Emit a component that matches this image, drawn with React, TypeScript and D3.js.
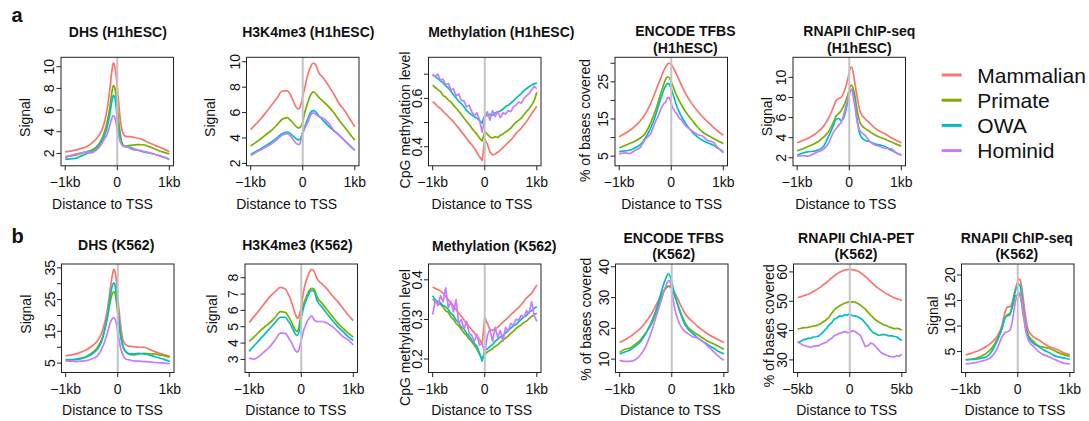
import React from 'react';
import * as d3 from 'd3';

// ---------- shared categories ----------
const SERIES = ['Mammalian', 'Primate', 'OWA', 'Hominid'];
const COLORS = ['#F8766D', '#7CAE00', '#00BFC4', '#C77CFF'];

// ---------- x grids (kb) ----------
const X_PEAK = [-1, -0.9, -0.8, -0.7, -0.6, -0.5, -0.4, -0.3, -0.25, -0.2, -0.15, -0.1, -0.075, -0.05, -0.025, 0, 0.025, 0.05, 0.075, 0.1, 0.15, 0.2, 0.25, 0.3, 0.4, 0.5, 0.6, 0.7, 0.8, 0.9, 1];
const X_METH = [-1, -0.95, -0.9, -0.85, -0.8, -0.75, -0.7, -0.65, -0.6, -0.55, -0.5, -0.45, -0.4, -0.35, -0.3, -0.25, -0.2, -0.15, -0.1, -0.05, 0, 0.05, 0.1, 0.15, 0.2, 0.25, 0.3, 0.35, 0.4, 0.45, 0.5, 0.55, 0.6, 0.65, 0.7, 0.75, 0.8, 0.85, 0.9, 0.95, 1];
const X_CHIA = [-5, -4.75, -4.5, -4.25, -4, -3.75, -3.5, -3.25, -3, -2.75, -2.5, -2.25, -2, -1.75, -1.5, -1.25, -1, -0.75, -0.5, -0.25, 0, 0.25, 0.5, 0.75, 1, 1.25, 1.5, 1.75, 2, 2.25, 2.5, 2.75, 3, 3.25, 3.5, 3.75, 4, 4.25, 4.5, 4.75, 5];

// ---------- tick labels ----------
const X_TICKS_1KB = [-1, 0, 1];
const X_LABELS_1KB = ['\u22121kb', '0', '1kb'];
const X_TICKS_5KB = [-5, 0, 5];
const X_LABELS_5KB = ['\u22125kb', '0', '5kb'];

// ---------- a1: DHS (H1hESC) ----------
const a1_mammalian = [2.15, 2.22, 2.3, 2.45, 2.6, 2.9, 3.35, 4.1, 4.8, 5.9, 7.6, 9.7, 10.35, 10.1, 9.3, 8.1, 6.8, 5.5, 4.6, 4.0, 3.6, 3.55, 3.55, 3.5, 3.4, 3.25, 3.0, 2.8, 2.6, 2.4, 2.15];
const a1_primate = [1.7, 1.78, 1.85, 2.0, 2.15, 2.3, 2.6, 3.3, 3.9, 4.8, 6.0, 7.7, 8.25, 8.1, 7.4, 6.3, 5.1, 4.1, 3.3, 2.9, 2.65, 2.7, 2.75, 2.78, 2.82, 2.8, 2.65, 2.45, 2.25, 2.1, 1.95];
const a1_owa = [1.45, 1.5, 1.55, 1.75, 1.95, 2.15, 2.45, 3.1, 3.6, 4.3, 5.4, 6.9, 7.35, 7.2, 6.5, 5.2, 4.2, 3.5, 3.0, 2.75, 2.62, 2.6, 2.55, 2.45, 2.3, 2.15, 2.05, 1.95, 1.8, 1.65, 1.45];
const a1_hominid = [1.6, 1.8, 1.95, 2.05, 2.15, 2.05, 2.3, 2.9, 3.3, 3.7, 4.45, 5.3, 5.5, 5.35, 4.9, 4.15, 3.6, 3.2, 2.9, 2.75, 2.65, 2.6, 2.45, 2.35, 2.3, 2.2, 2.1, 1.95, 1.8, 1.65, 1.45];
const a1_yTicks = [2, 4, 6, 8, 10];
const a1_yLabels = [2, 4, 6, 8, 10];

// ---------- a2: H3K4me3 (H1hESC) ----------
const a2_mammalian = [4.66, 5.1, 5.53, 6.05, 6.58, 7.1, 7.68, 7.72, 7.5, 7.1, 6.6, 6.3, 6.28, 6.45, 6.8, 7.24, 7.7, 8.16, 8.6, 9.03, 9.6, 9.9, 9.74, 9.2, 8.7, 8.08, 7.42, 6.7, 6.18, 5.53, 4.87];
const a2_primate = [3.37, 3.65, 3.95, 4.28, 4.6, 5.0, 5.45, 5.6, 5.45, 5.26, 5.0, 4.82, 4.78, 4.85, 5.0, 5.26, 5.75, 6.18, 6.5, 6.84, 7.37, 7.63, 7.5, 7.24, 6.84, 6.45, 5.97, 5.4, 4.87, 4.34, 3.82];
const a2_owa = [2.71, 2.94, 3.16, 3.42, 3.68, 4.0, 4.34, 4.47, 4.38, 4.21, 4.03, 3.87, 3.85, 3.92, 4.15, 4.47, 4.75, 5.0, 5.28, 5.53, 6.0, 6.15, 6.05, 5.79, 5.34, 4.92, 4.55, 4.21, 3.82, 3.42, 3.03];
const a2_hominid = [2.63, 2.85, 3.08, 3.3, 3.55, 3.87, 4.21, 4.35, 4.2, 3.95, 3.68, 3.5, 3.48, 3.6, 3.95, 4.34, 4.6, 4.87, 5.05, 5.26, 5.79, 5.97, 5.87, 5.71, 5.53, 5.13, 4.6, 4.21, 3.82, 3.42, 3.03];
const a2_yTicks = [2, 4, 6, 8, 10];
const a2_yLabels = [2, 4, 6, 8, 10];

// ---------- a3: Methylation (H1hESC) ----------
const a3_mammalian = [0.586, 0.578, 0.566, 0.558, 0.546, 0.536, 0.525, 0.514, 0.503, 0.49, 0.477, 0.462, 0.449, 0.435, 0.421, 0.408, 0.394, 0.376, 0.358, 0.343, 0.43, 0.41, 0.378, 0.366, 0.37, 0.377, 0.386, 0.396, 0.407, 0.418, 0.428, 0.44, 0.455, 0.466, 0.476, 0.49, 0.503, 0.52, 0.537, 0.552, 0.568];
const a3_primate = [0.655, 0.645, 0.636, 0.628, 0.612, 0.606, 0.593, 0.585, 0.571, 0.56, 0.547, 0.533, 0.519, 0.505, 0.492, 0.477, 0.464, 0.451, 0.436, 0.424, 0.462, 0.452, 0.44, 0.436, 0.441, 0.438, 0.447, 0.452, 0.461, 0.468, 0.477, 0.49, 0.501, 0.509, 0.518, 0.532, 0.545, 0.557, 0.572, 0.59, 0.625];
const a3_owa = [0.697, 0.69, 0.682, 0.672, 0.664, 0.652, 0.643, 0.63, 0.615, 0.602, 0.588, 0.578, 0.566, 0.55, 0.54, 0.532, 0.524, 0.518, 0.508, 0.498, 0.53, 0.528, 0.534, 0.53, 0.54, 0.544, 0.548, 0.556, 0.566, 0.572, 0.58, 0.59, 0.6, 0.61, 0.62, 0.632, 0.64, 0.648, 0.655, 0.66, 0.664];
const a3_hominid = [0.7, 0.69, 0.7, 0.675, 0.68, 0.655, 0.662, 0.635, 0.64, 0.61, 0.618, 0.592, 0.59, 0.565, 0.572, 0.545, 0.528, 0.54, 0.51, 0.46, 0.52, 0.545, 0.51, 0.55, 0.525, 0.545, 0.52, 0.54, 0.535, 0.55, 0.545, 0.565, 0.572, 0.585, 0.58, 0.6, 0.61, 0.62, 0.635, 0.65, 0.64];
const a3_yTicks = [0.4, 0.5, 0.6, 0.7];
const a3_yLabels = [0.4, 0.6];

// ---------- a4: ENCODE TFBS (H1hESC) ----------
const a4_mammalian = [10.2, 11.0, 11.9, 13.0, 14.4, 16.3, 19.0, 22.5, 24.3, 26.0, 27.8, 29.2, 29.7, 30.0, 29.9, 29.6, 29.1, 28.5, 27.8, 27.0, 25.5, 24.0, 22.5, 21.2, 19.0, 17.2, 15.6, 14.2, 12.9, 11.7, 10.6];
const a4_primate = [7.2, 7.8, 8.4, 9.0, 9.8, 11.1, 13.8, 17.4, 19.6, 21.9, 24.1, 25.9, 26.3, 26.3, 25.8, 25.0, 24.1, 23.2, 22.3, 21.4, 20.0, 18.7, 17.5, 16.5, 14.7, 12.9, 11.5, 10.6, 9.8, 9.1, 8.4];
const a4_owa = [6.2, 6.4, 6.6, 7.2, 8.0, 9.8, 12.4, 16.0, 18.3, 20.5, 22.6, 24.1, 24.5, 24.6, 24.0, 23.2, 22.1, 21.0, 19.8, 18.7, 17.0, 15.6, 14.4, 13.3, 11.5, 10.2, 9.3, 8.6, 8.0, 7.1, 6.2];
const a4_hominid = [5.5, 5.9, 5.7, 6.5, 7.3, 9.5, 11.0, 14.4, 15.8, 17.6, 19.0, 19.7, 20.6, 20.8, 20.2, 19.2, 18.0, 17.6, 16.8, 16.5, 15.3, 14.7, 13.6, 12.9, 11.8, 10.8, 10.4, 9.2, 8.8, 7.2, 5.9];
const a4_yTicks = [5, 10, 15, 20, 25, 30];
const a4_yLabels = [5, 15, 25];

// ---------- a5: RNAPII ChIP-seq (H1hESC) ----------
const a5_mammalian = [3.49, 3.7, 3.92, 4.22, 4.58, 5.08, 5.91, 7.08, 7.7, 7.9, 8.05, 8.57, 8.95, 9.4, 9.9, 10.5, 11.0, 11.0, 10.5, 9.7, 8.07, 6.74, 6.2, 5.91, 5.42, 4.92, 4.58, 4.35, 4.02, 3.75, 3.49];
const a5_primate = [2.69, 2.88, 3.09, 3.33, 3.59, 4.02, 4.58, 5.58, 6.15, 6.41, 6.74, 7.24, 7.55, 7.91, 8.3, 8.74, 9.2, 9.2, 8.9, 8.4, 6.74, 5.58, 5.15, 4.92, 4.58, 4.25, 4.02, 3.82, 3.59, 3.36, 3.16];
const a5_owa = [2.26, 2.45, 2.59, 2.65, 2.76, 3.09, 4.09, 5.25, 5.85, 5.91, 5.68, 6.08, 6.5, 7.08, 7.7, 8.24, 8.7, 8.8, 8.4, 7.74, 5.75, 4.42, 3.95, 3.75, 3.59, 3.36, 3.26, 3.09, 2.76, 2.49, 2.26];
const a5_hominid = [2.16, 2.2, 2.16, 2.36, 2.59, 2.82, 3.42, 4.58, 4.92, 5.25, 5.58, 6.41, 6.9, 7.41, 7.95, 8.41, 8.75, 8.74, 8.2, 7.41, 5.75, 4.75, 4.45, 4.25, 3.59, 3.26, 3.09, 2.92, 2.92, 2.49, 2.26];
const a5_yTicks = [2, 4, 6, 8, 10];
const a5_yLabels = [2, 4, 6, 8, 10];

// ---------- b1: DHS (K562) ----------
const b1_mammalian = [7.3, 7.6, 7.9, 8.5, 9.2, 10.3, 11.8, 14.9, 17.8, 21.7, 27.5, 33.0, 34.5, 33.7, 30.5, 25.9, 21.5, 17.5, 14.5, 12.3, 10.8, 10.4, 10.3, 10.2, 10.0, 10.0, 9.4, 8.7, 8.1, 7.6, 7.1];
const b1_primate = [5.8, 6.0, 6.3, 6.6, 7.1, 8.2, 9.7, 12.8, 15.5, 19.1, 23.8, 27.0, 27.5, 26.8, 24.0, 20.7, 17.5, 14.4, 12.0, 10.2, 8.7, 7.9, 7.7, 7.6, 7.9, 8.1, 7.9, 7.9, 7.6, 7.3, 6.9];
const b1_owa = [6.1, 6.1, 6.1, 6.4, 6.9, 7.8, 9.2, 12.3, 15.5, 19.6, 25.4, 29.6, 30.3, 29.3, 26.2, 22.3, 18.0, 14.4, 12.0, 10.2, 8.7, 8.1, 7.9, 7.9, 8.1, 7.9, 7.6, 7.1, 6.6, 6.1, 5.5];
const b1_hominid = [5.8, 5.6, 5.5, 5.6, 5.8, 6.3, 7.1, 9.7, 11.8, 14.4, 17.5, 19.1, 19.3, 18.8, 17.2, 14.9, 12.4, 10.2, 8.7, 7.6, 6.3, 6.1, 5.9, 5.7, 5.6, 5.5, 5.4, 5.2, 5.1, 5.0, 4.8];
const b1_yTicks = [5, 10, 15, 20, 25, 30, 35];
const b1_yLabels = [5, 15, 25, 35];

// ---------- b2: H3K4me3 (K562) ----------
const b2_mammalian = [5.26, 5.65, 6.03, 6.45, 6.84, 7.15, 7.41, 7.3, 7.0, 6.64, 6.13, 5.66, 5.52, 5.59, 5.85, 6.23, 6.75, 7.25, 7.6, 7.86, 8.3, 8.51, 8.37, 7.96, 7.61, 7.29, 6.88, 6.54, 6.13, 5.72, 5.38];
const b2_primate = [4.1, 4.4, 4.71, 5.0, 5.26, 5.58, 5.93, 5.87, 5.65, 5.38, 5.01, 4.75, 4.72, 4.91, 5.35, 5.83, 6.15, 6.43, 6.65, 6.84, 7.21, 7.35, 7.29, 6.84, 6.43, 6.03, 5.62, 5.22, 4.91, 4.61, 4.36];
const b2_owa = [3.49, 3.85, 4.2, 4.55, 4.91, 5.26, 5.58, 5.58, 5.35, 5.11, 4.77, 4.5, 4.47, 4.61, 5.05, 5.52, 5.9, 6.23, 6.45, 6.68, 7.04, 7.22, 7.15, 6.64, 6.19, 5.78, 5.38, 5.01, 4.71, 4.4, 4.16];
const b2_hominid = [3.08, 3.02, 3.22, 3.5, 3.79, 4.2, 4.61, 4.6, 4.35, 4.1, 3.79, 3.49, 3.45, 3.55, 3.85, 4.2, 4.5, 4.81, 5.0, 5.22, 5.52, 5.66, 5.42, 5.32, 5.32, 5.22, 5.01, 4.71, 4.4, 4.2, 3.89];
const b2_yTicks = [3, 4, 5, 6, 7, 8];
const b2_yLabels = [3, 4, 5, 6, 7, 8];

// ---------- b3: Methylation (K562) ----------
const b3_mammalian = [0.382, 0.378, 0.375, 0.372, 0.366, 0.358, 0.35, 0.342, 0.333, 0.325, 0.316, 0.308, 0.299, 0.29, 0.282, 0.274, 0.266, 0.258, 0.249, 0.238, 0.305, 0.29, 0.274, 0.272, 0.276, 0.28, 0.287, 0.293, 0.299, 0.305, 0.312, 0.318, 0.324, 0.33, 0.337, 0.345, 0.354, 0.36, 0.366, 0.376, 0.387];
const b3_primate = [0.352, 0.345, 0.34, 0.338, 0.332, 0.322, 0.318, 0.306, 0.3, 0.29, 0.284, 0.275, 0.266, 0.26, 0.25, 0.244, 0.234, 0.225, 0.212, 0.2, 0.212, 0.218, 0.222, 0.226, 0.232, 0.236, 0.242, 0.248, 0.253, 0.258, 0.265, 0.27, 0.277, 0.282, 0.286, 0.292, 0.296, 0.302, 0.308, 0.312, 0.316];
const b3_owa = [0.36, 0.35, 0.345, 0.342, 0.335, 0.332, 0.325, 0.315, 0.31, 0.298, 0.292, 0.28, 0.276, 0.265, 0.258, 0.248, 0.24, 0.232, 0.215, 0.195, 0.222, 0.225, 0.232, 0.236, 0.245, 0.25, 0.256, 0.26, 0.266, 0.272, 0.278, 0.284, 0.287, 0.294, 0.3, 0.306, 0.31, 0.318, 0.322, 0.328, 0.332];
const b3_hominid = [0.312, 0.35, 0.335, 0.36, 0.345, 0.38, 0.33, 0.345, 0.32, 0.35, 0.29, 0.3, 0.275, 0.295, 0.265, 0.26, 0.245, 0.262, 0.235, 0.24, 0.215, 0.26, 0.275, 0.245, 0.28, 0.255, 0.272, 0.245, 0.28, 0.27, 0.29, 0.285, 0.3, 0.298, 0.31, 0.305, 0.322, 0.315, 0.345, 0.31, 0.295];
const b3_yTicks = [0.2, 0.3, 0.4];
const b3_yLabels = [0.2, 0.3, 0.4];

// ---------- b4: ENCODE TFBS (K562) ----------
const b4_mammalian = [15.4, 16.3, 17.3, 18.6, 20.0, 22.0, 24.4, 27.6, 29.2, 30.8, 32.2, 33.2, 33.5, 33.6, 33.5, 33.2, 32.6, 31.8, 31.0, 30.2, 28.3, 26.5, 25.0, 23.8, 22.2, 20.6, 19.3, 18.1, 17.1, 16.3, 15.4];
const b4_primate = [12.2, 13.2, 13.6, 14.8, 16.3, 18.5, 21.1, 24.9, 27.5, 30.3, 32.2, 33.3, 33.7, 33.7, 33.4, 33.0, 32.0, 30.8, 29.6, 28.5, 26.0, 23.8, 22.0, 20.6, 19.0, 17.9, 16.8, 15.7, 15.0, 14.1, 13.2];
const b4_owa = [11.7, 12.3, 13.0, 14.2, 15.7, 18.3, 21.7, 26.0, 28.8, 31.9, 34.6, 36.8, 37.6, 37.5, 36.6, 35.1, 33.2, 31.3, 29.8, 28.5, 25.8, 23.3, 21.4, 20.0, 18.4, 16.8, 15.7, 14.6, 13.6, 12.5, 11.7];
const b4_hominid = [9.6, 9.3, 9.3, 9.8, 11.4, 14.1, 18.4, 23.8, 26.5, 29.2, 31.9, 34.3, 35.2, 35.6, 34.8, 32.4, 29.5, 27.1, 25.2, 23.8, 21.5, 20.0, 19.0, 18.4, 17.3, 16.8, 15.7, 14.1, 12.5, 10.9, 9.6];
const b4_yTicks = [10, 20, 30, 40];
const b4_yLabels = [10, 20, 30, 40];

// ---------- b5: RNAPII ChIA-PET (K562) ----------
const b5_mammalian = [51.2, 51.5, 51.8, 52.1, 52.4, 52.8, 53.3, 53.8, 54.4, 55.0, 55.7, 56.4, 57.1, 57.9, 58.6, 59.3, 59.8, 60.3, 60.6, 60.8, 60.9, 60.8, 60.6, 60.3, 59.8, 59.2, 58.4, 57.6, 56.7, 55.9, 55.1, 54.4, 53.8, 53.2, 52.6, 52.1, 51.6, 51.2, 50.9, 50.6, 50.3];
const b5_primate = [40.6, 40.7, 40.9, 41.0, 41.1, 41.3, 41.5, 41.7, 42.0, 42.5, 43.1, 43.7, 44.5, 45.8, 47.0, 47.8, 48.4, 48.9, 49.3, 49.6, 49.8, 49.8, 49.7, 49.3, 48.7, 48.0, 47.3, 46.3, 45.3, 44.4, 43.6, 43.0, 42.5, 42.0, 41.7, 41.3, 41.0, 40.6, 40.8, 40.6, 40.2];
const b5_owa = [35.9, 36.3, 36.8, 37.0, 37.4, 37.3, 37.8, 37.9, 38.1, 38.8, 39.7, 40.6, 41.9, 42.6, 43.9, 44.2, 45.0, 44.8, 45.4, 45.2, 45.7, 45.1, 45.0, 44.7, 44.2, 43.6, 42.5, 41.5, 40.2, 39.3, 38.9, 38.4, 38.5, 38.7, 38.5, 38.2, 38.2, 38.0, 37.9, 37.2, 36.6];
const b5_hominid = [36.2, 35.6, 35.1, 34.8, 34.5, 34.3, 34.6, 34.8, 34.8, 35.3, 35.7, 36.0, 36.8, 37.3, 38.2, 38.6, 39.1, 39.3, 39.7, 39.3, 39.4, 39.9, 39.7, 39.0, 38.5, 36.5, 34.5, 34.8, 35.7, 35.4, 34.5, 33.5, 32.5, 32.0, 31.7, 31.3, 31.1, 31.0, 31.4, 31.2, 32.0];
const b5_yTicks = [30, 40, 50, 60];
const b5_yLabels = [30, 40, 50, 60];

// ---------- b6: RNAPII ChIP-seq (K562) ----------
const b6_mammalian = [4.35, 4.65, 5.0, 5.45, 6.0, 6.8, 7.9, 10.2, 12.5, 13.7, 13.8, 14.8, 15.9, 17.1, 18.0, 18.7, 19.2, 19.0, 17.6, 15.8, 11.8, 9.2, 8.4, 7.9, 7.3, 6.6, 6.0, 5.65, 5.2, 4.7, 4.35];
const b6_primate = [3.4, 3.5, 3.7, 4.1, 4.7, 5.65, 7.3, 9.6, 11.5, 12.2, 12.5, 13.8, 14.8, 15.8, 16.0, 16.1, 16.3, 15.8, 14.3, 12.5, 9.9, 8.3, 7.5, 7.0, 6.1, 5.85, 5.65, 5.2, 4.7, 4.35, 4.0];
const b6_owa = [3.4, 3.45, 3.5, 3.7, 4.0, 5.0, 7.0, 9.6, 11.5, 12.0, 12.2, 14.5, 15.7, 16.7, 17.5, 18.0, 18.2, 17.8, 16.0, 13.8, 9.9, 7.9, 7.1, 6.6, 6.0, 5.3, 4.8, 4.2, 3.9, 3.7, 3.5];
const b6_hominid = [2.6, 2.7, 2.85, 3.1, 3.4, 4.0, 5.45, 7.9, 8.6, 8.9, 9.2, 11.2, 12.8, 14.5, 15.5, 16.1, 16.5, 16.3, 15.0, 13.2, 9.2, 7.3, 6.5, 6.0, 5.0, 4.35, 4.0, 3.5, 3.05, 2.7, 2.6];
const b6_yTicks = [5, 10, 15, 20];
const b6_yLabels = [5, 10, 15, 20];

// ---------- layout (positions / styles, not data) ----------
const BOX_W = 112.5;
const BOX_H = 108.5;
const FONT = "'Liberation Sans', Arial, Helvetica, sans-serif";

type Panel = {
  title: string[]; titleX: number; titleY: number[];
  left: number; top: number;
  x: number[]; xDomain: [number, number]; xTicks: number[]; xLabels: string[];
  yDomain: [number, number]; yTicks: number[]; yLabels: number[];
  ylab: string; ylabOff: number; ylabY: number; xlabX: number; xlabY: number;
  series: number[][]; smooth: boolean;
};

const XD1: [number, number] = [-1.08, 1.08];
const XD5: [number, number] = [-5.4, 5.4];

const PANELS: Panel[] = [
  { title: ['DHS (H1hESC)'], titleX: 117.8, titleY: [36.5], left: 61, top: 57.3, x: X_PEAK, xDomain: XD1, xTicks: X_TICKS_1KB, xLabels: X_LABELS_1KB,
    yDomain: [0.86, 10.87], yTicks: a1_yTicks, yLabels: a1_yLabels, ylab: 'Signal', ylabOff: 31, ylabY: 117.5, xlabX: 102.5, xlabY: 208.5,
    series: [a1_mammalian, a1_primate, a1_owa, a1_hominid], smooth: true },
  { title: ['H3K4me3 (H1hESC)'], titleX: 308.3, titleY: [36.5], left: 246.5, top: 57.3, x: X_PEAK, xDomain: XD1, xTicks: X_TICKS_1KB, xLabels: X_LABELS_1KB,
    yDomain: [1.81, 10.35], yTicks: a2_yTicks, yLabels: a2_yLabels, ylab: 'Signal', ylabOff: 31.5, ylabY: 117.5, xlabX: 286.7, xlabY: 208.5,
    series: [a2_mammalian, a2_primate, a2_owa, a2_hominid], smooth: true },
  { title: ['Methylation (H1hESC)'], titleX: 501.3, titleY: [36.5], left: 428.5, top: 57.3, x: X_METH, xDomain: XD1, xTicks: X_TICKS_1KB, xLabels: X_LABELS_1KB,
    yDomain: [0.321, 0.77], yTicks: a3_yTicks, yLabels: a3_yLabels, ylab: 'CpG methylation level', ylabOff: 18.5, ylabY: 120, xlabX: 482, xlabY: 208.5,
    series: [a3_mammalian, a3_primate, a3_owa, a3_hominid], smooth: false },
  { title: ['ENCODE TFBS', '(H1hESC)'], titleX: 685.4, titleY: [36, 52.5], left: 615, top: 57.3, x: X_PEAK, xDomain: XD1, xTicks: X_TICKS_1KB, xLabels: X_LABELS_1KB,
    yDomain: [2.4, 31.6], yTicks: a4_yTicks, yLabels: a4_yLabels, ylab: '% of bases covered', ylabOff: 25.5, ylabY: 120.5, xlabX: 671.7, xlabY: 208.5,
    series: [a4_mammalian, a4_primate, a4_owa, a4_hominid], smooth: true },
  { title: ['RNAPII ChIP-seq', '(H1hESC)'], titleX: 859.3, titleY: [36, 52.5], left: 793, top: 57.3, x: X_PEAK, xDomain: XD1, xTicks: X_TICKS_1KB, xLabels: X_LABELS_1KB,
    yDomain: [1.2, 12.0], yTicks: a5_yTicks, yLabels: a5_yLabels, ylab: 'Signal', ylabOff: 21.5, ylabY: 116.7, xlabX: 845.8, xlabY: 208.5,
    series: [a5_mammalian, a5_primate, a5_owa, a5_hominid], smooth: true },
  { title: ['DHS (K562)'], titleX: 116.2, titleY: [249.5], left: 61.5, top: 264, x: X_PEAK, xDomain: XD1, xTicks: X_TICKS_1KB, xLabels: X_LABELS_1KB,
    yDomain: [2.05, 36.2], yTicks: b1_yTicks, yLabels: b1_yLabels, ylab: 'Signal', ylabOff: 31, ylabY: 314.2, xlabX: 112.5, xlabY: 415,
    series: [b1_mammalian, b1_primate, b1_owa, b1_hominid], smooth: true },
  { title: ['H3K4me3 (K562)'], titleX: 297.5, titleY: [249.5], left: 245, top: 264, x: X_PEAK, xDomain: XD1, xTicks: X_TICKS_1KB, xLabels: X_LABELS_1KB,
    yDomain: [2.2, 8.84], yTicks: b2_yTicks, yLabels: b2_yLabels, ylab: 'Signal', ylabOff: 28, ylabY: 314.2, xlabX: 295.8, xlabY: 415,
    series: [b2_mammalian, b2_primate, b2_owa, b2_hominid], smooth: true },
  { title: ['Methylation (K562)'], titleX: 494.3, titleY: [250.5], left: 428.5, top: 264, x: X_METH, xDomain: XD1, xTicks: X_TICKS_1KB, xLabels: X_LABELS_1KB,
    yDomain: [0.166, 0.44], yTicks: b3_yTicks, yLabels: b3_yLabels, ylab: 'CpG methylation level', ylabOff: 18.5, ylabY: 337.5, xlabX: 481.7, xlabY: 415,
    series: [b3_mammalian, b3_primate, b3_owa, b3_hominid], smooth: false },
  { title: ['ENCODE TFBS', '(K562)'], titleX: 673.7, titleY: [242.5, 258.5], left: 615.5, top: 264, x: X_PEAK, xDomain: XD1, xTicks: X_TICKS_1KB, xLabels: X_LABELS_1KB,
    yDomain: [5.66, 40.9], yTicks: b4_yTicks, yLabels: b4_yLabels, ylab: '% of bases covered', ylabOff: 25, ylabY: 319.2, xlabX: 670.5, xlabY: 415,
    series: [b4_mammalian, b4_primate, b4_owa, b4_hominid], smooth: true },
  { title: ['RNAPII ChIA-PET', '(K562)'], titleX: 856, titleY: [242.5, 258.5], left: 793.5, top: 264, x: X_CHIA, xDomain: XD5, xTicks: X_TICKS_5KB, xLabels: X_LABELS_5KB,
    yDomain: [25.7, 62.7], yTicks: b5_yTicks, yLabels: b5_yLabels, ylab: '% of bases covered', ylabOff: 20, ylabY: 325.8, xlabX: 846.7, xlabY: 415,
    series: [b5_mammalian, b5_primate, b5_owa, b5_hominid], smooth: false },
  { title: ['RNAPII ChIP-seq', '(K562)'], titleX: 1016.8, titleY: [242.5, 258.5], left: 961.5, top: 264, x: X_PEAK, xDomain: XD1, xTicks: X_TICKS_1KB, xLabels: X_LABELS_1KB,
    yDomain: [0.9, 22.15], yTicks: b6_yTicks, yLabels: b6_yLabels, ylab: 'Signal', ylabOff: 24, ylabY: 315.8, xlabX: 1015, xlabY: 415,
    series: [b6_mammalian, b6_primate, b6_owa, b6_hominid], smooth: true },
];

function PanelView({ p }: { p: Panel }) {
  const L = p.left, T = p.top, R = p.left + BOX_W, B = p.top + BOX_H;
  const xs = d3.scaleLinear().domain(p.xDomain).range([L, R]);
  const ys = d3.scaleLinear().domain(p.yDomain).range([B, T]);
  const line = d3.line<number>()
    .x((_, i) => xs(p.x[i]))
    .y((d) => ys(d))
    .curve(p.smooth ? d3.curveMonotoneX : d3.curveLinear);
  const tick = 4.5;
  return (
    <g>
      {p.series.map((s, k) => (
        <path key={k} d={line(s) || ''} fill="none" stroke={COLORS[k]} strokeWidth={1.7} strokeLinejoin="round" />
      ))}
      <line x1={xs(0)} x2={xs(0)} y1={T} y2={B} stroke="#c4c4c4" strokeWidth={2} />
      <rect x={L} y={T} width={BOX_W} height={BOX_H} fill="none" stroke="#222" strokeWidth={1} />
      {p.yTicks.map((t) => (
        <line key={'yt' + t} x1={L - tick} x2={L} y1={ys(t)} y2={ys(t)} stroke="#222" strokeWidth={1} />
      ))}
      {p.yLabels.map((t) => (
        <text key={'yl' + t} transform={`translate(${L - 7},${ys(t)}) rotate(-90)`} textAnchor="middle" fontSize={14} fill="#111">{String(t)}</text>
      ))}
      {p.xTicks.map((t) => (
        <line key={'xt' + t} x1={xs(t)} x2={xs(t)} y1={B} y2={B + tick} stroke="#222" strokeWidth={1} />
      ))}
      {p.xTicks.map((t, i) => (
        <text key={'xl' + t} x={xs(t)} y={B + 21} textAnchor="middle" fontSize={14} fill="#111">{p.xLabels[i]}</text>
      ))}
      {p.title.map((s, i) => (
        <text key={'ti' + i} x={p.titleX} y={p.titleY[i]} textAnchor="middle" fontSize={14} fontWeight="bold" fill="#111">{s}</text>
      ))}
      <text transform={`translate(${L - p.ylabOff},${p.ylabY}) rotate(-90)`} textAnchor="middle" fontSize={14} fill="#111">{p.ylab}</text>
      <text x={p.xlabX} y={p.xlabY} textAnchor="middle" fontSize={14} fill="#111">Distance to TSS</text>
    </g>
  );
}

export default function App() {
  const legendY = [75, 100.2, 125.4, 150.6];
  return (
    <svg width={1089} height={421} style={{ position: 'absolute', left: 0, top: 0, background: '#fff' }} fontFamily={FONT}>
      <rect x={0} y={0} width={1089} height={421} fill="#fff" />
      <text x={11.5} y={21.7} fontSize={20} fontWeight="bold" fill="#111">a</text>
      <text x={11.5} y={242.7} fontSize={20} fontWeight="bold" fill="#111">b</text>
      {PANELS.map((p, i) => <PanelView key={i} p={p} />)}
      {SERIES.map((s, i) => (
        <g key={s}>
          <line x1={941.7} x2={961.7} y1={legendY[i]} y2={legendY[i]} stroke={COLORS[i]} strokeWidth={3} />
          <text x={977.3} y={legendY[i] + 7.5} fontSize={21} fill="#111">{s}</text>
        </g>
      ))}
    </svg>
  );
}
